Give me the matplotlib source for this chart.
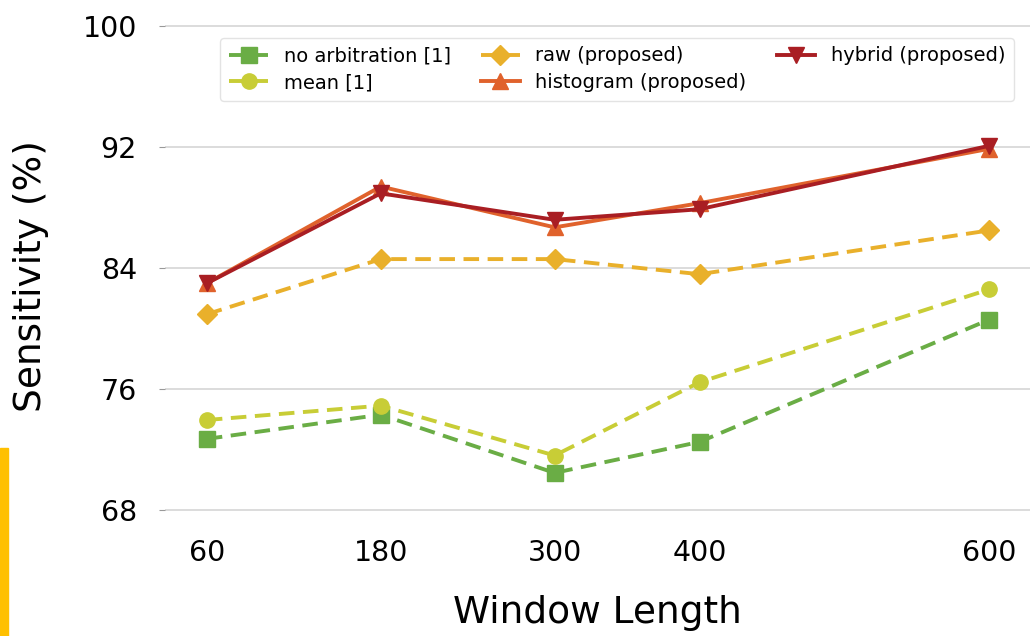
import matplotlib
matplotlib.use('Agg')
import matplotlib.pyplot as plt
from matplotlib.patches import Rectangle

plt.rcParams.update({
    'font.family': 'DejaVu Sans',
    'figure.dpi': 100,
})

window = [60, 180, 300, 400, 600]
no_arbitration = [72.7, 74.3, 70.45, 72.5, 80.6]
mean_arb = [73.95, 74.9, 71.6, 76.45, 82.6]
raw = [80.95, 84.6, 84.6, 83.6, 86.5]
histogram = [83.0, 89.4, 86.7, 88.3, 91.9]
hybrid = [83.0, 88.95, 87.2, 87.9, 92.1]
yticks = [68, 76, 84, 92, 100]

series = [
    (no_arbitration, 'no arbitration [1]', '#6aad45', 's', '--'),
    (mean_arb, 'mean [1]', '#c8cd36', 'o', '--'),
    (raw, 'raw (proposed)', '#e9b02b', 'D', '--'),
    (histogram, 'histogram (proposed)', '#e0622c', '^', '-'),
    (hybrid, 'hybrid (proposed)', '#a91e23', 'v', '-'),
]

fig = plt.figure(figsize=(10.3, 6.36))
ax = fig.add_axes([0.160, 0.165, 0.840, 0.803])

for vals, label, color, marker, ls in series:
    ax.plot(window, vals, linestyle=ls, color=color, marker=marker,
            markersize=11 if marker != 'D' else 10, linewidth=2.8, label=label,
            dashes=(4, 2.2) if ls == '--' else (None, None))

ax.set_xlim(31, 628)
ax.set_ylim(66.6, 100.4)
ax.set_xticks(window)
ax.set_yticks(yticks)
ax.tick_params(axis='x', length=0, pad=6, labelsize=20.5)
ax.tick_params(axis='y', length=4, color='#999999', pad=16, labelsize=20.5)
ax.grid(axis='y', color='#d6d6d6', linewidth=1.2)
ax.grid(axis='x', visible=False)
for s in ax.spines.values():
    s.set_visible(False)

ax.set_xlabel('Window Length', fontsize=27, labelpad=20)
ax.set_ylabel('Sensitivity (%)', fontsize=27, labelpad=24)

leg = ax.legend(ncol=3, loc='upper right', bbox_to_anchor=(0.993, 0.985),
                fontsize=14, handlelength=2.0, columnspacing=1.55,
                frameon=True, fancybox=True, edgecolor='#dddddd',
                borderpad=0.45, labelspacing=0.4)
leg.get_frame().set_linewidth(1.0)

fig.patches.append(Rectangle((0, 0), 0.0075, 0.296, transform=fig.transFigure,
                             color='#ffc000', zorder=0))

fig.savefig('out.png', dpi=100)
